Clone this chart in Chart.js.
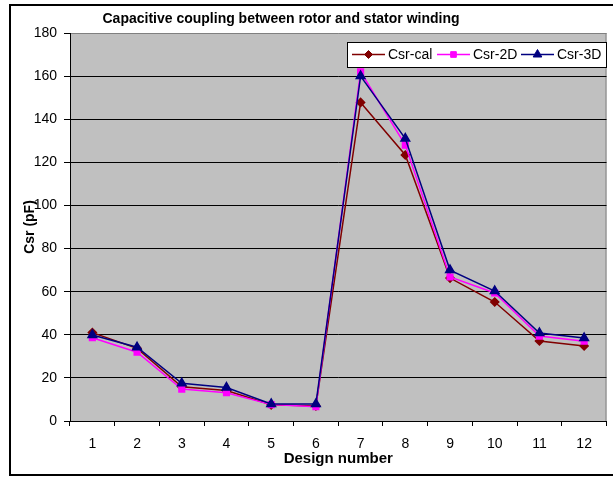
<!DOCTYPE html>
<html>
<head>
<meta charset="utf-8">
<script src="https://cdn.jsdelivr.net/npm/chart.js@4"></script>
<style>
  html, body { margin: 0; padding: 0; background: #fff; overflow: hidden; }
  #wrap { position: relative; width: 613px; height: 477px; overflow: hidden; }
  #frame {
    position: absolute; left: 9px; top: 4px; width: 700px; height: 468px;
    border: 2px solid #000; pointer-events: none;
  }
  canvas { display: block; }
</style>
</head>
<body>
<div id="wrap">
  <canvas id="csrChart" width="613" height="477"></canvas>
  <div id="frame"></div>
</div>
<script>
// data
const designs = ['1', '2', '3', '4', '5', '6', '7', '8', '9', '10', '11', '12'];
const csrCal = [41, 33.7, 15.9, 14.1, 7.5, 7, 147.8, 123.4, 66.3, 55.2, 37.1, 34.8];
const csr2D  = [38.6, 31.9, 14.8, 13.1, 7.6, 6.6, 162, 128, 66.8, 59.4, 39.4, 37];
const csr3D  = [39.9, 34.2, 17.5, 15.5, 7.9, 7.9, 160, 131, 70, 60.3, 40.8, 38.5];
const yTicks = [0, 20, 40, 60, 80, 100, 120, 140, 160, 180];

Chart.defaults.font.family = '"Liberation Sans", Arial, sans-serif';
Chart.defaults.color = '#000';

// grey plot background
const backdrop = {
  id: 'backdrop',
  beforeDraw(chart) {
    const {ctx, chartArea: a} = chart;
    ctx.save();
    ctx.fillStyle = '#fff';
    ctx.fillRect(0, 0, chart.width, chart.height);
    ctx.fillStyle = '#c0c0c0';
    ctx.fillRect(a.left, a.top, a.right - a.left, a.bottom - a.top);
    ctx.strokeStyle = '#808080';
    ctx.lineWidth = 1;
    ctx.beginPath();
    ctx.moveTo(a.right - 0.5, a.top);
    ctx.lineTo(a.right - 0.5, a.bottom);
    ctx.stroke();
    ctx.restore();
  }
};

// title + legend box drawn inside the plot like the original
const decor = {
  id: 'decor',
  afterDraw(chart) {
    const ctx = chart.ctx;
    ctx.save();
    ctx.fillStyle = '#000';
    ctx.font = 'bold 14px "Liberation Sans", Arial, sans-serif';
    ctx.textAlign = 'center';
    ctx.textBaseline = 'alphabetic';
    ctx.fillText('Capacitive coupling between rotor and stator winding', 281, 23);

    // legend
    ctx.fillStyle = '#fff';
    ctx.fillRect(347, 42, 259, 25);
    ctx.strokeStyle = '#000';
    ctx.lineWidth = 1;
    ctx.strokeRect(347.5, 42.5, 259, 25);
    const starts = [352, 437, 521];
    ctx.font = '14px "Liberation Sans", Arial, sans-serif';
    ctx.textAlign = 'left';
    chart.data.datasets.forEach((ds, i) => {
      const x = starts[i], y = 54.5;
      ctx.strokeStyle = ds.borderColor;
      ctx.lineWidth = 1.5;
      ctx.beginPath();
      ctx.moveTo(x, y);
      ctx.lineTo(x + 33, y);
      ctx.stroke();
      ctx.fillStyle = ds.pointBackgroundColor;
      ctx.strokeStyle = ds.pointBorderColor;
      ctx.lineWidth = 1;
      Chart.helpers.drawPoint(ctx, {
        pointStyle: ds.pointStyle, radius: ds.pointRadius, rotation: 0, borderWidth: 1
      }, x + 16.5, y);
      ctx.fillStyle = '#000';
      ctx.fillText(ds.label, x + 36, 59);
    });
    ctx.restore();
  }
};

new Chart(document.getElementById('csrChart'), {
  type: 'line',
  data: {
    labels: designs,
    datasets: [
      {
        label: 'Csr-cal', data: csrCal, order: 2,
        borderColor: '#800000', backgroundColor: '#800000',
        pointStyle: 'rectRot', pointRadius: 4,
        pointBackgroundColor: '#800000', pointBorderColor: '#800000',
        borderWidth: 1.5, tension: 0
      },
      {
        label: 'Csr-2D', data: csr2D, order: 1,
        borderColor: '#ff00ff', backgroundColor: '#ff00ff',
        pointStyle: 'rect', pointRadius: 4,
        pointBackgroundColor: '#ff00ff', pointBorderColor: '#ff00ff',
        borderWidth: 1.5, tension: 0
      },
      {
        label: 'Csr-3D', data: csr3D, order: 0,
        borderColor: '#000080', backgroundColor: '#000080',
        pointStyle: 'triangle', pointRadius: 5,
        pointBackgroundColor: '#000080', pointBorderColor: '#000080',
        borderWidth: 1.5, tension: 0
      }
    ]
  },
  options: {
    responsive: false,
    animation: false,
    events: [],
    layout: { padding: { top: 33, right: 2, left: 0, bottom: 0 } },
    plugins: {
      legend: { display: false },
      title: { display: false },
      tooltip: { enabled: false }
    },
    scales: {
      x: {
        offset: true,
        grid: {
          offset: true, drawOnChartArea: false, drawTicks: true,
          tickLength: 5, color: '#000'
        },
        border: { color: '#000', width: 1 },
        ticks: { font: { size: 14 }, padding: 10, maxRotation: 0 },
        title: {
          display: true, text: 'Design number',
          font: { size: 15, weight: 'bold' }, padding: { top: 0, bottom: 9 }
        },
        afterFit(scale) { scale.height = 56; }
      },
      y: {
        min: 0, max: 180,
        afterBuildTicks(scale) { scale.ticks = yTicks.map(v => ({ value: v })); },
        grid: {
          color: ctx => (ctx.tick && ctx.tick.value === 180 ? '#808080' : '#000'),
          tickColor: '#000',
          tickLength: 6, lineWidth: 1
        },
        border: { color: '#000', width: 1 },
        ticks: { font: { size: 14 }, padding: 7 },
        title: {
          display: true, text: 'Csr (pF)',
          font: { size: 14, weight: 'bold' }, padding: { top: 22, bottom: 0 }
        },
        afterFit(scale) { scale.width = 70; }
      }
    }
  },
  plugins: [backdrop, decor]
});
</script>
</body>
</html>
